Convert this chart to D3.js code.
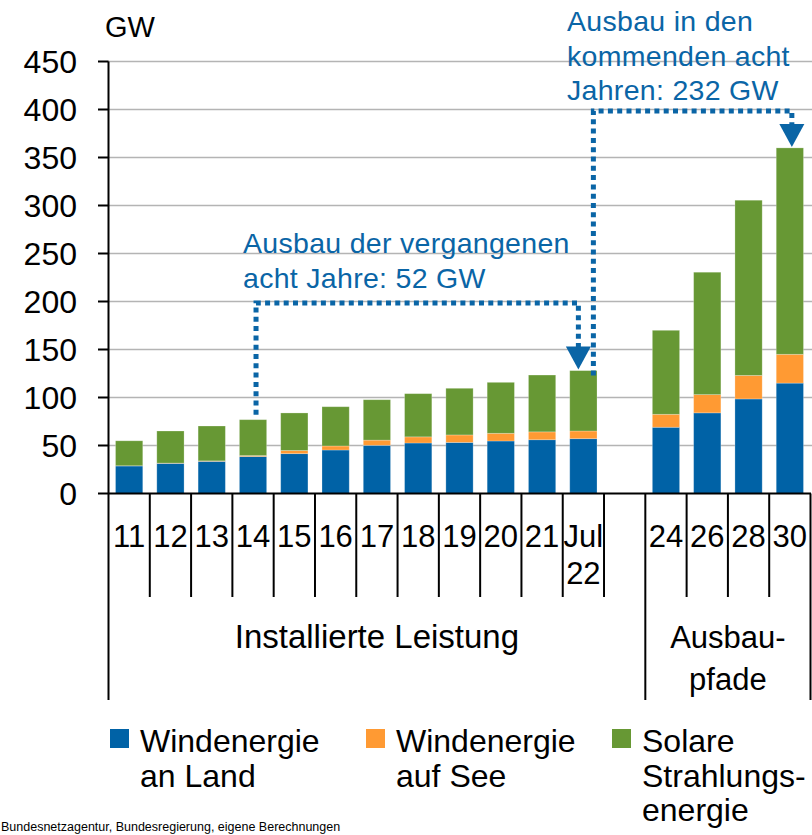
<!DOCTYPE html>
<html>
<head>
<meta charset="utf-8">
<script src="https://cdn.jsdelivr.net/npm/d3@7"></script>
<style>
  body { margin: 0; background: #fff; }
  svg { display: block; font-family: "Liberation Sans", Arial, sans-serif; }
</style>
</head>
<body>
<script>
// categories ("" is the empty slot between history and targets)
var categories = ["11", "12", "13", "14", "15", "16", "17", "18", "19", "20", "21", "Jul 22", "", "24", "26", "28", "30"];
// GW per category
var windOnshore  = [28.7, 31.4, 33.5, 38.5, 41.5, 45.3, 50.2, 52.6, 53.2, 54.7, 56.0, 57.1, null, 69, 84, 98.5, 115];
var windOffshore = [0.2, 0.3, 0.5, 1.0, 3.3, 4.2, 5.4, 6.4, 7.8, 8.0, 8.2, 8.0, null, 13.5, 19, 24.5, 30];
var solar        = [26.0, 33.4, 36.3, 37.4, 39.1, 40.9, 42.1, 45.0, 48.6, 53.1, 59.2, 62.9, null, 87.5, 127.5, 182.5, 215];
var yTicks = [0, 50, 100, 150, 200, 250, 300, 350, 400, 450];
var seriesNames = [["Windenergie", "an Land"], ["Windenergie", "auf See"], ["Solare", "Strahlungs-", "energie"]];
var groups = [
    {label: ["Installierte Leistung"], first: "11", last: "", size: 33},
    {label: ["Ausbau-", "pfade"], first: "24", last: "30", size: 31}
];
var annPast = ["Ausbau der vergangenen", "acht Jahre: 52 GW"];
var annFuture = ["Ausbau in den", "kommenden acht", "Jahren: 232 GW"];
var source = "Bundesnetzagentur, Bundesregierung, eigene Berechnungen";

var colors = ["#0062a6", "#ff9a33", "#679834"];
var blue = "#0a65a6";

var width = 812, height = 835;
var svg = d3.select("body").append("svg")
    .attr("width", width)
    .attr("height", height);

var x = d3.scaleBand()
    .domain(categories)
    .range([108.5, 810.5])
    .paddingInner(0.34)
    .paddingOuter(0.17);
var step = x.step();

var y = d3.scaleLinear()
    .domain([0, 450])
    .range([493.5, 61.5]);

// grid lines
svg.append("g").selectAll("line")
    .data(yTicks.slice(1))
    .enter().append("line")
    .attr("x1", 108).attr("x2", width)
    .attr("y1", function (d) { return y(d); })
    .attr("y2", function (d) { return y(d); })
    .attr("stroke", "#b4b4b4")
    .attr("stroke-width", 1.6);

// stacked data
var rows = categories.map(function (c, i) {
    return {cat: c, onshore: windOnshore[i], offshore: windOffshore[i], solar: solar[i]};
}).filter(function (r) { return r.onshore != null; });
var stack = d3.stack().keys(["onshore", "offshore", "solar"])(rows);

svg.append("g").selectAll("g")
    .data(stack)
    .enter().append("g")
    .attr("fill", function (d, i) { return colors[i]; })
    .selectAll("rect")
    .data(function (d) { return d; })
    .enter().append("rect")
    .attr("x", function (d) { return x(d.data.cat); })
    .attr("width", x.bandwidth())
    .attr("y", function (d) { return y(d[1]); })
    .attr("height", function (d) { return y(d[0]) - y(d[1]); })
    .attr("stroke", "#ffffff")
    .attr("stroke-opacity", 0.3)
    .attr("stroke-width", 0.8);

// y axis
var yAxis = svg.append("g");
yAxis.append("line")
    .attr("x1", 108.5).attr("x2", 108.5)
    .attr("y1", y(450)).attr("y2", y(0))
    .attr("stroke", "#000").attr("stroke-width", 2);
yAxis.selectAll("line.tick")
    .data(yTicks)
    .enter().append("line")
    .attr("class", "tick")
    .attr("x1", 98).attr("x2", 108.5)
    .attr("y1", function (d) { return y(d); })
    .attr("y2", function (d) { return y(d); })
    .attr("stroke", "#000").attr("stroke-width", 2);
yAxis.selectAll("text")
    .data(yTicks)
    .enter().append("text")
    .attr("x", 77)
    .attr("y", function (d) { return y(d) + 11.5; })
    .attr("text-anchor", "end")
    .attr("font-size", 32)
    .text(function (d) { return d; });
svg.append("text")
    .attr("x", 105).attr("y", 37)
    .attr("font-size", 29)
    .text("GW");

// x axis with category separators
var xAxis = svg.append("g");
xAxis.append("line")
    .attr("x1", 108).attr("x2", 811)
    .attr("y1", y(0)).attr("y2", y(0))
    .attr("stroke", "#000").attr("stroke-width", 2);
var bounds = categories.map(function (c) { return x(c) - step * 0.17; });
bounds.push(x(categories[categories.length - 1]) + x.bandwidth() + step * 0.17);
var longBounds = [0, 13, categories.length];
xAxis.selectAll("line.sep")
    .data(bounds)
    .enter().append("line")
    .attr("class", "sep")
    .attr("x1", function (d) { return Math.min(d, 810.5); })
    .attr("x2", function (d) { return Math.min(d, 810.5); })
    .attr("y1", y(0))
    .attr("y2", function (d, i) { return longBounds.indexOf(i) >= 0 ? 700 : 597; })
    .attr("stroke", "#000").attr("stroke-width", 2);

var catLabels = xAxis.selectAll("text.cat")
    .data(categories.filter(function (c) { return c !== ""; }))
    .enter().append("text")
    .attr("class", "cat")
    .attr("text-anchor", "middle")
    .attr("font-size", 31)
    .attr("x", function (d) { return x(d) + x.bandwidth() / 2; })
    .attr("y", 547);
catLabels.selectAll("tspan")
    .data(function (d) { return d.split(" "); })
    .enter().append("tspan")
    .attr("x", function () { var c = d3.select(this.parentNode).datum(); return x(c) + x.bandwidth() / 2; })
    .attr("dy", function (d, i) { return i === 0 ? 0 : 37; })
    .text(function (d) { return d; });

// group labels
groups.forEach(function (g) {
    var cx = (x(g.first) - step * 0.17 + x(g.last) + x.bandwidth() + step * 0.17) / 2;
    var t = svg.append("text")
        .attr("text-anchor", "middle")
        .attr("font-size", g.size)
        .attr("y", 648);
    g.label.forEach(function (l, i) {
        t.append("tspan").attr("x", cx).attr("dy", i === 0 ? 0 : 42).text(l);
    });
});

// annotations: dotted brackets with arrows
function dotted(points) {
    svg.append("path")
        .attr("d", d3.line()(points))
        .attr("fill", "none")
        .attr("stroke", blue)
        .attr("stroke-width", 5)
        .attr("stroke-dasharray", "5,4.3");
}
function arrow(cx, tipY) {
    svg.append("path")
        .attr("d", "M" + (cx - 12.5) + "," + (tipY - 23) + "L" + (cx + 12.5) + "," + (tipY - 23) + "L" + cx + "," + tipY + "Z")
        .attr("fill", blue);
}
var cx14 = x("14") + x.bandwidth() / 2 + 3;
var cx22 = x("Jul 22") + x.bandwidth() / 2;
var cx30 = x("30") + x.bandwidth() / 2;
var top22 = windOnshore[11] + windOffshore[11] + solar[11];
var top30 = windOnshore[16] + windOffshore[16] + solar[16];

dotted([[cx14, y(82)], [cx14, y(198.5)], [cx22 - 5, y(198.5)], [cx22 - 5, y(top22) - 22]]);
arrow(cx22 - 5, y(top22) - 1);
dotted([[cx22 + 10, y(123)], [cx22 + 10, y(398.5)], [cx30 + 2, y(398.5)], [cx30 + 2, y(top30) - 22]]);
arrow(cx30 + 2, y(top30) - 1);

function annText(lines, x0, y0) {
    var t = svg.append("text")
        .attr("fill", blue)
        .attr("font-size", 28.5)
        .attr("letter-spacing", 0.3)
        .attr("y", y0);
    lines.forEach(function (l, i) {
        t.append("tspan").attr("x", x0).attr("dy", i === 0 ? 0 : 34.5).text(l);
    });
}
annText(annPast, 243, 253);
annText(annFuture, 567, 31);

// legend
var legendX = [110, 366, 612];
seriesNames.forEach(function (parts, i) {
    var g = svg.append("g");
    g.append("rect")
        .attr("x", legendX[i]).attr("y", 729)
        .attr("width", 19).attr("height", 19)
        .attr("fill", colors[i]);
    var t = g.append("text")
        .attr("font-size", 32)
        .attr("y", 752);
    parts.forEach(function (p, j) {
        t.append("tspan").attr("x", legendX[i] + 30).attr("dy", j === 0 ? 0 : 34.5).text(p);
    });
});

// source line
svg.append("text")
    .attr("x", 1).attr("y", 831)
    .attr("font-size", 12.5)
    .attr("fill", "#000")
    .text(source);
</script>
</body>
</html>
